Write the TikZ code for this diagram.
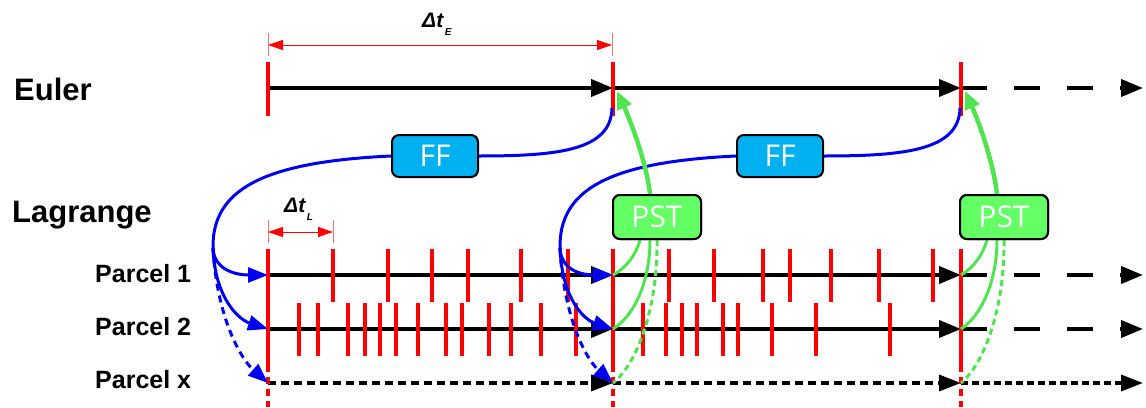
\documentclass[tikz,border=0pt]{standalone}
\usepackage{fontspec}
\setmainfont{Liberation Sans}
\newfontfamily\boxfont{Open Sans}
\usetikzlibrary{arrows.meta,calc}
\definecolor{myred}{RGB}{255,0,0}
\definecolor{myblue}{RGB}{0,0,240}
\definecolor{mygreen}{RGB}{80,228,80}
\definecolor{ffblue}{RGB}{0,176,240}
\definecolor{pstgreen}{RGB}{100,255,100}
\begin{document}
\begin{tikzpicture}[x=1pt,y=-1pt,
  tl/.style={line width=4pt,black,-{Triangle[length=22pt,width=17pt]}},
  tldash/.style={tl,dash pattern=on 26pt off 27pt},
  pxline/.style={line width=3.5pt,black,dash pattern=on 8pt off 5pt,-{Triangle[length=22pt,width=16pt]}},
  pxend/.style={line width=3.5pt,black,dash pattern=on 7pt off 4pt,-{Triangle[length=22pt,width=16pt]}},
  redtick/.style={line width=3.5pt,myred},
  redtickdash/.style={line width=3.5pt,myred,dash pattern=on 7pt off 5pt},
  dimline/.style={myred,line width=1pt,{Triangle[length=15pt,width=10pt]}-{Triangle[length=15pt,width=10pt]}},
  ext/.style={myred!55,line width=0.8pt},
  bl/.style={line width=3pt,myblue},
  blarrow/.style={bl,-{Triangle[length=20pt,width=15pt]}},
  blarrowdash/.style={blarrow,dash pattern=on 7pt off 5pt},
  gthick/.style={line width=4.5pt,mygreen,-{Triangle[length=18pt,width=15pt]}},
  gthin/.style={line width=3pt,mygreen},
  gthindash/.style={gthin,dash pattern=on 6pt off 4pt},
  ffbox/.style={draw=black,line width=2pt,fill=ffblue,rounded corners=7pt,minimum width=86pt,minimum height=42pt,inner sep=0pt,text=white,font=\boxfont\fontsize{30}{30}\selectfont},
  pstbox/.style={ffbox,fill=pstgreen,minimum width=88pt,minimum height=44pt},
  biglab/.style={anchor=base west,inner sep=0pt,font=\bfseries\fontsize{31}{31}\selectfont},
  parlab/.style={anchor=base west,inner sep=0pt,font=\bfseries\fontsize{25}{25}\selectfont},
  dlab/.style={anchor=base west,inner sep=0pt,font=\bfseries\itshape\fontsize{21}{21}\selectfont}
]
\useasboundingbox (0,0) rectangle (1146,407);

% coordinates
\coordinate (E0) at (268,88);
\coordinate (E1) at (613,88);
\coordinate (E2) at (961,88);
\coordinate (Eend) at (1143,88);
\coordinate (P1a) at (268,275);
\coordinate (P1b) at (613,275);
\coordinate (P1c) at (961,275);
\coordinate (P1end) at (1143,275);
\coordinate (P2a) at (268,329);
\coordinate (P2b) at (613,329);
\coordinate (P2c) at (961,329);
\coordinate (P2end) at (1143,329);
\coordinate (Pxa) at (268,383);
\coordinate (Pxb) at (613,383);
\coordinate (Pxc) at (961,383);
\coordinate (Pxend) at (1143,383);

% labels
\node[biglab] (euler) at (14,100) {Euler};
\node[biglab] (lagrange) at (12,222) {Lagrange};
\node[parlab] (par1) at (95,282) {Parcel 1};
\node[parlab] (par2) at (95,335) {Parcel 2};
\node[parlab] (parx) at (95,388) {Parcel x};

% dimensions
\coordinate (dE0) at (268,45);
\coordinate (dE1) at (612,45);
\draw[ext] (268,33) -- (268,56);
\draw[ext] (612,33) -- (612,56);
\draw[dimline] (dE0) -- (dE1);
\node[dlab] (dtE) at (422,27) {Δt\kern1.5pt\raisebox{-8pt}{\fontsize{10}{10}\selectfont E}};
\coordinate (dL0) at (268,232);
\coordinate (dL1) at (333,232);
\draw[ext] (268,220) -- (268,243);
\draw[ext] (333,220) -- (333,243);
\draw[dimline] (dL0) -- (dL1);
\node[dlab] (dtL) at (284,212) {Δt\kern1.5pt\raisebox{-8pt}{\fontsize{10}{10}\selectfont L}};

% time lines
\draw[tl] (E0) -- (E1);
\draw[tl] (E1) -- (E2);
\draw[tldash] (E2) -- (Eend);
\draw[tl] (P1a) -- (P1b);
\draw[tl] (P1b) -- (P1c);
\draw[tldash] (P1c) -- (P1end);
\draw[tl] (P2a) -- (P2b);
\draw[tl] (P2b) -- (P2c);
\draw[tldash] (P2c) -- (P2end);
\draw[pxline] (Pxa) -- (Pxb);
\draw[pxline] (Pxb) -- (Pxc);
\draw[pxend] (Pxc) -- (Pxend);

% red ticks
\foreach \x in {268,613,961} {
  \draw[redtick] (\x,62) -- (\x,116);
  \draw[redtick] (\x,249) -- (\x,365);
  \draw[redtickdash] (\x,365) -- (\x,407);
}
\foreach \x in {333,388,432,468,521,568,669,714,763,790,831,879,933}
  \draw[redtick] (\x,249) -- (\x,302);
\foreach \x in {299,318,348,365,380,396,418,446,462,489,511,541,576,643,666,682,697,723,738,772,816,890}
  \draw[redtick] (\x,303) -- (\x,356);

% boxes
\node[ffbox] (FF1) at (435,156) {FF};
\node[ffbox] (FF2) at (780,156) {FF};
\node[pstbox] (PST1) at (657,217) {PST};
\node[pstbox] (PST2) at (1004,217) {PST};

% blue forcing paths
\coordinate (E1b) at (612,108);
\coordinate (E2b) at (960,108);
\coordinate (S1) at (213,248);
\coordinate (S2) at (560,248);
\draw[bl] (E1b) .. controls (611,150) and (560,156) .. (FF1.east);
\draw[bl] (FF1.west) .. controls (262,162) and (212,190) .. (S1);
\draw[blarrow] (S1) .. controls (214,270) and (236,275) .. (P1a);
\draw[blarrow] (S1) .. controls (215,300) and (240,320) .. (P2a);
\draw[blarrowdash] (S1) .. controls (217,320) and (242,360) .. (Pxa);
\draw[bl] (E2b) .. controls (959,150) and (906,156) .. (FF2.east);
\draw[bl] (FF2.west) .. controls (608,162) and (559,190) .. (S2);
\draw[blarrow] (S2) .. controls (561,270) and (581,275) .. (P1b);
\draw[blarrow] (S2) .. controls (562,300) and (585,320) .. (P2b);
\draw[blarrowdash] (S2) .. controls (564,320) and (587,360) .. (Pxb);

% green feedback
\coordinate (G1) at (617,91);
\coordinate (G2) at (965,91);
\draw[gthick] ([xshift=-7pt]PST1.north) .. controls (646,160) and (630,120) .. (G1);
\draw[gthick] ([xshift=-7pt]PST2.north) .. controls (993,160) and (978,120) .. (G2);
\draw[gthin] ([xshift=-17pt]PST1.south) .. controls (636,255) and (626,268) .. (P1b);
\draw[gthin] ([xshift=-7pt]PST1.south) .. controls (650,282) and (634,316) .. (P2b);
\draw[gthindash] (PST1.south) .. controls (658,310) and (636,365) .. (Pxb);
\draw[gthin] ([xshift=-17pt]PST2.south) .. controls (983,255) and (973,268) .. (P1c);
\draw[gthin] ([xshift=-7pt]PST2.south) .. controls (997,282) and (981,316) .. (P2c);
\draw[gthindash] (PST2.south) .. controls (1005,310) and (983,365) .. (Pxc);
% redraw boxes on top
\node[pstbox] at (PST1) {PST};
\node[pstbox] at (PST2) {PST};
\end{tikzpicture}
\end{document}
